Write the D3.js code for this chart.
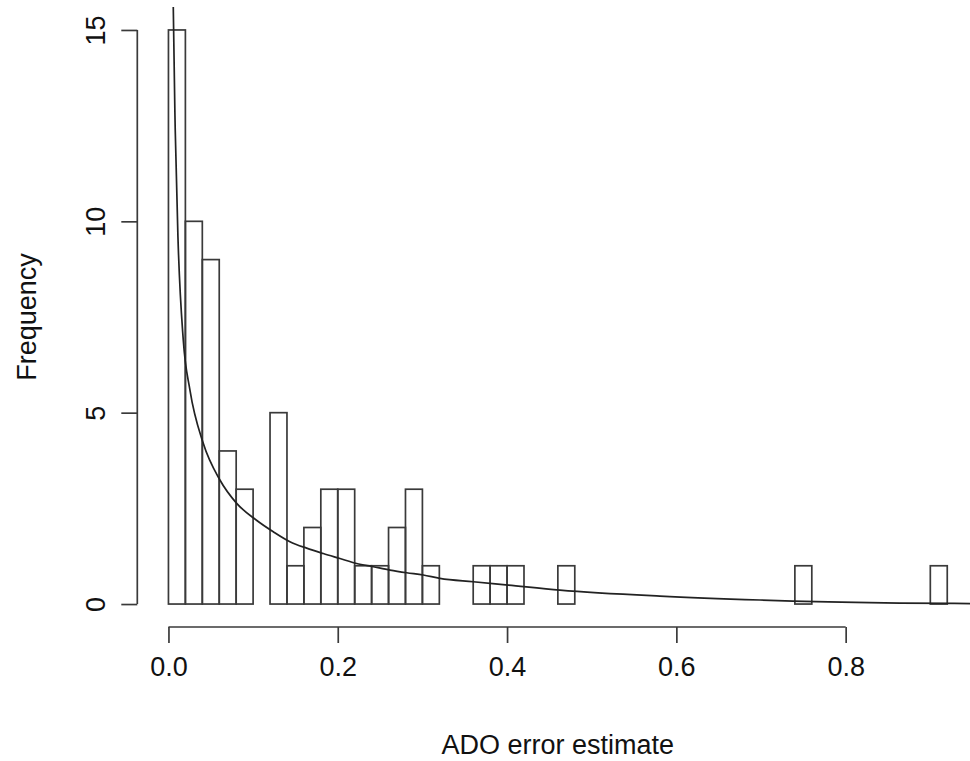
<!DOCTYPE html>
<html>
<head>
<meta charset="utf-8">
<script src="https://cdn.jsdelivr.net/npm/d3@7"></script>
<style>
  html, body { margin: 0; padding: 0; background: #fff; }
  svg { display: block; }
  text { font-family: "Liberation Sans", Arial, Helvetica, sans-serif; fill: #111; }
</style>
</head>
<body>
<svg id="chart" width="970" height="761"></svg>
<script>
// ---- data ----
const binStart = 0.0;
const binWidth = 0.02;
const counts = [15,10,9,4,3,0,5,1,2,3,3,1,1,2,3,1,0,0,1,1,1,0,0,1,
                0,0,0,0,0,0,0,0,0,0,0,0,0,1,0,0,0,0,0,0,0,1];
const curveX = [0.004,0.0057,0.008,0.0112,0.0175,0.0254,0.0411,0.0608,0.0806,0.104,0.1238,0.1435,0.1633,0.1829,0.2026,0.2223,0.2419,0.2617,0.2814,0.301,0.3207,0.360,0.4014,0.4625,0.5806,0.6988,0.7377,0.864,0.96];
const curveY = [20,15.6,12.4,9.6,6.9,5.59,4.2,3.24,2.63,2.19,1.89,1.63,1.46,1.32,1.19,1.06,0.975,0.888,0.818,0.758,0.672,0.583,0.496,0.366,0.209,0.105,0.078,0.026,0.012];
const xTicks = [0.0, 0.2, 0.4, 0.6, 0.8];
const yTicks = [0, 5, 10, 15];
const xTitle = "ADO error estimate";
const yTitle = "Frequency";

// ---- layout ----
const svg = d3.select("#chart");
const plotL = 137.3, plotR = 978.4, plotT = 7, plotB = 627;
const x = d3.scaleLinear().domain([-0.0368, 0.9568]).range([plotL, plotR]);
const y = d3.scaleLinear().domain([-0.6, 15.6]).range([plotB, plotT]);
const stroke = "#3a3a3a";
const fs = 27;

const bins = counts.map((c, i) => ({x0: binStart + i * binWidth, x1: binStart + (i + 1) * binWidth, c}));

svg.append("g").selectAll("rect").data(bins).join("rect")
  .attr("x", d => x(d.x0))
  .attr("y", d => y(d.c))
  .attr("width", d => x(d.x1) - x(d.x0))
  .attr("height", d => y(0) - y(d.c))
  .attr("fill", "none")
  .attr("stroke", stroke)
  .attr("stroke-width", 1.7);

// density-like curve, clipped to plot region
svg.append("clipPath").attr("id", "clip").append("rect")
  .attr("x", plotL).attr("y", plotT).attr("width", plotR - plotL).attr("height", plotB - plotT);
const pts = curveX.map((v, i) => [v, curveY[i]]);
svg.append("path")
  .attr("clip-path", "url(#clip)")
  .attr("d", d3.line().x(d => x(d[0])).y(d => y(d[1])).curve(d3.curveMonotoneX)(pts))
  .attr("fill", "none")
  .attr("stroke", "#222")
  .attr("stroke-width", 1.7);

// x axis
const gx = svg.append("g").attr("transform", `translate(0,${plotB})`)
  .call(d3.axisBottom(x).tickValues(xTicks).tickFormat(d3.format(".1f")).tickSize(16).tickPadding(14));
gx.select(".domain").remove();
gx.append("line").attr("x1", x(xTicks[0])).attr("x2", x(xTicks[xTicks.length - 1]))
  .attr("stroke", stroke).attr("stroke-width", 1.7);
gx.selectAll(".tick line").attr("stroke", stroke).attr("stroke-width", 1.7);
gx.selectAll(".tick text").attr("font-size", fs).attr("font-family", "Liberation Sans, Arial, sans-serif").attr("fill", "#111");

// y axis
const gy = svg.append("g").attr("transform", `translate(${plotL},0)`)
  .call(d3.axisLeft(y).tickValues(yTicks).tickFormat(d3.format("d")).tickSize(16));
gy.select(".domain").remove();
gy.append("line").attr("y1", y(yTicks[0])).attr("y2", y(yTicks[yTicks.length - 1]))
  .attr("stroke", stroke).attr("stroke-width", 1.7);
gy.selectAll(".tick line").attr("stroke", stroke).attr("stroke-width", 1.7);
gy.selectAll(".tick text")
  .attr("font-size", fs).attr("font-family", "Liberation Sans, Arial, sans-serif").attr("fill", "#111")
  .attr("transform", "rotate(-90)")
  .attr("text-anchor", "middle")
  .attr("x", 0).attr("y", -42).attr("dy", "0.35em");

// titles
svg.append("text")
  .attr("x", (plotL + plotR) / 2).attr("y", 745).attr("dy", "0.35em")
  .attr("text-anchor", "middle").attr("font-size", fs).text(xTitle);
svg.append("text")
  .attr("transform", `translate(27,${(plotT + plotB) / 2}) rotate(-90)`)
  .attr("dy", "0.35em")
  .attr("text-anchor", "middle").attr("font-size", fs).text(yTitle);
</script>
</body>
</html>
